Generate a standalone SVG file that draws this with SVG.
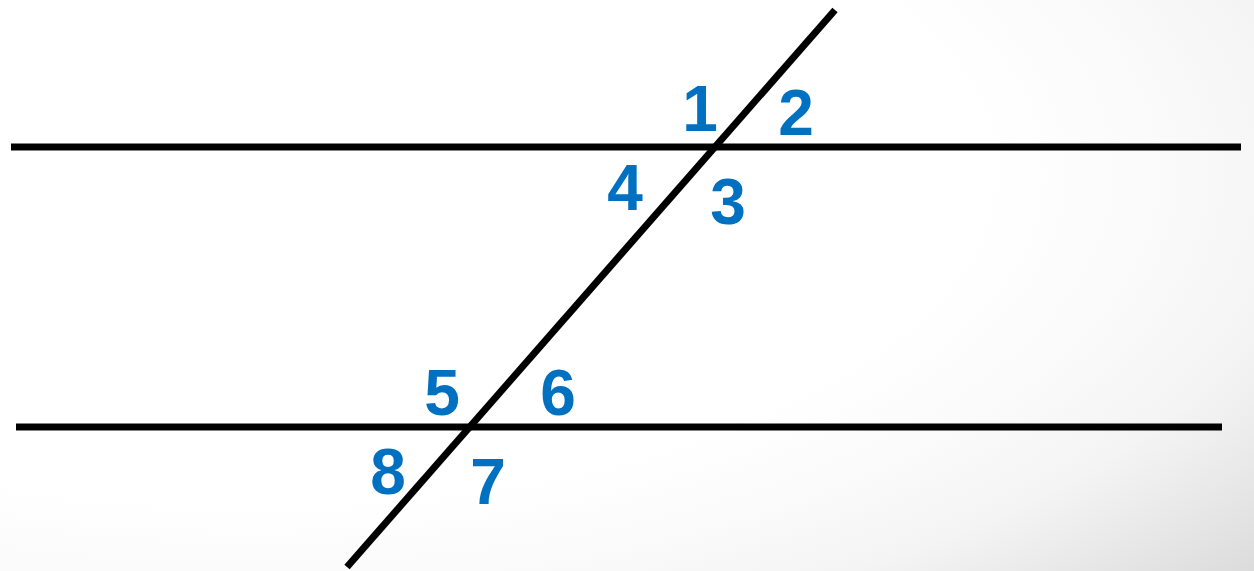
<svg xmlns="http://www.w3.org/2000/svg" width="1254" height="571" viewBox="0 0 1254 571">
<defs>
<radialGradient id="bg" cx="0.2" cy="0.3" r="1.06" gradientUnits="objectBoundingBox">
<stop offset="0" stop-color="#ffffff"/>
<stop offset="0.55" stop-color="#ffffff"/>
<stop offset="0.69" stop-color="#fafafa"/>
<stop offset="0.8" stop-color="#f4f4f4"/>
<stop offset="1" stop-color="#dcdcdc"/>
</radialGradient>
<style>
.ln{stroke:#000;stroke-width:7;fill:none;stroke-linecap:butt}
.lb{font-family:"Liberation Sans",Arial,sans-serif;font-weight:bold;font-size:64px;fill:#0070c0;text-anchor:middle}
</style>
</defs>
<rect x="0" y="0" width="1254" height="571" fill="url(#bg)"/>
<g id="connectors">
<line class="ln" x1="11" y1="147" x2="1241" y2="147"/>
<line class="ln" x1="16" y1="427" x2="1222" y2="427"/>
<line class="ln" x1="835" y1="10" x2="347" y2="567"/>
</g>
<g id="label-1"><text class="lb" x="700" y="131">1</text></g>
<g id="label-2"><text class="lb" x="796" y="135">2</text></g>
<g id="label-3"><text class="lb" x="728" y="224">3</text></g>
<g id="label-4"><text class="lb" x="625" y="210">4</text></g>
<g id="label-5"><text class="lb" x="442" y="415">5</text></g>
<g id="label-6"><text class="lb" x="558" y="415">6</text></g>
<g id="label-7"><text class="lb" x="488" y="504">7</text></g>
<g id="label-8"><text class="lb" x="388" y="494">8</text></g>
</svg>
